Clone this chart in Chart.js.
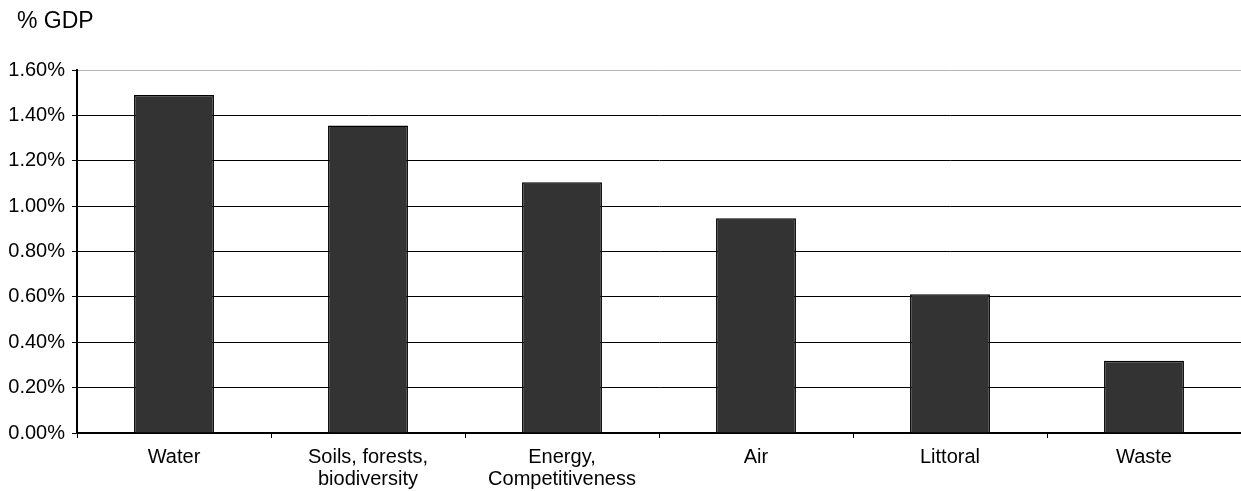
<!DOCTYPE html>
<html>
<head>
<meta charset="utf-8">
<script src="https://cdn.jsdelivr.net/npm/chart.js@4/dist/chart.umd.min.js"></script>
<style>
  html, body { margin: 0; padding: 0; background: #fff; }
  #wrap { width: 1241px; height: 491px; }
</style>
</head>
<body>
<div id="wrap"><canvas id="c" width="1241" height="491"></canvas></div>
<script>
// Environmental cost by domain, expressed as a share of GDP
const categories = [
  'Water',
  ['Soils, forests,', 'biodiversity'],
  ['Energy,', 'Competitiveness'],
  'Air',
  'Littoral',
  'Waste'
];
const costShare = [1.49, 1.355, 1.105, 0.947, 0.612, 0.318];
const yTicks = [0, 0.2, 0.4, 0.6, 0.8, 1.0, 1.2, 1.4, 1.6];
const unitLabel = '% GDP';

const FONT = '"Liberation Sans", Arial, sans-serif';

// Unit caption in the top-left corner
const unitCaption = {
  id: 'unitCaption',
  afterDraw(chart) {
    const ctx = chart.ctx;
    ctx.save();
    ctx.fillStyle = '#000';
    ctx.font = '23px ' + FONT;
    ctx.textAlign = 'left';
    ctx.textBaseline = 'alphabetic';
    ctx.fillText(unitLabel, 17, 28);
    ctx.restore();
  }
};

new Chart(document.getElementById('c'), {
  type: 'bar',
  data: {
    labels: categories,
    datasets: [{
      data: costShare,
      backgroundColor: '#333333',
      borderColor: '#000000',
      borderWidth: 1.5,
      categoryPercentage: 1,
      barPercentage: 0.412
    }]
  },
  options: {
    responsive: false,
    animation: false,
    devicePixelRatio: 1,
    layout: { padding: { top: 70, left: 6, right: 0, bottom: 0 } },
    plugins: {
      legend: { display: false },
      tooltip: { enabled: false }
    },
    scales: {
      x: {
        offset: true,
        border: { display: true, color: '#000', width: 2 },
        grid: {
          offset: true,
          drawOnChartArea: false,
          drawTicks: true,
          tickLength: 5,
          color: '#000',
          lineWidth: 1
        },
        ticks: {
          color: '#000',
          font: { family: FONT, size: 20, lineHeight: 1.1 },
          padding: 8,
          maxRotation: 0,
          autoSkip: false
        },
        afterFit(scale) { scale.height = 58; }
      },
      y: {
        min: 0,
        max: 1.6,
        afterBuildTicks(scale) {
          scale.ticks = yTicks.map(v => ({ value: v }));
        },
        border: { display: true, color: '#000', width: 2 },
        grid: {
          drawOnChartArea: true,
          tickLength: 5,
          color: (c) => (c.tick && Math.abs(c.tick.value - 1.6) < 1e-9) ? '#b4b4b4' : '#000',
          tickColor: '#000',
          lineWidth: 1
        },
        ticks: {
          color: '#000',
          font: { family: FONT, size: 20 },
          padding: 7,
          callback: (v) => Number(v).toFixed(2) + '%'
        },
        afterFit(scale) { scale.width = 71; }
      }
    }
  },
  plugins: [unitCaption]
});
</script>
</body>
</html>
